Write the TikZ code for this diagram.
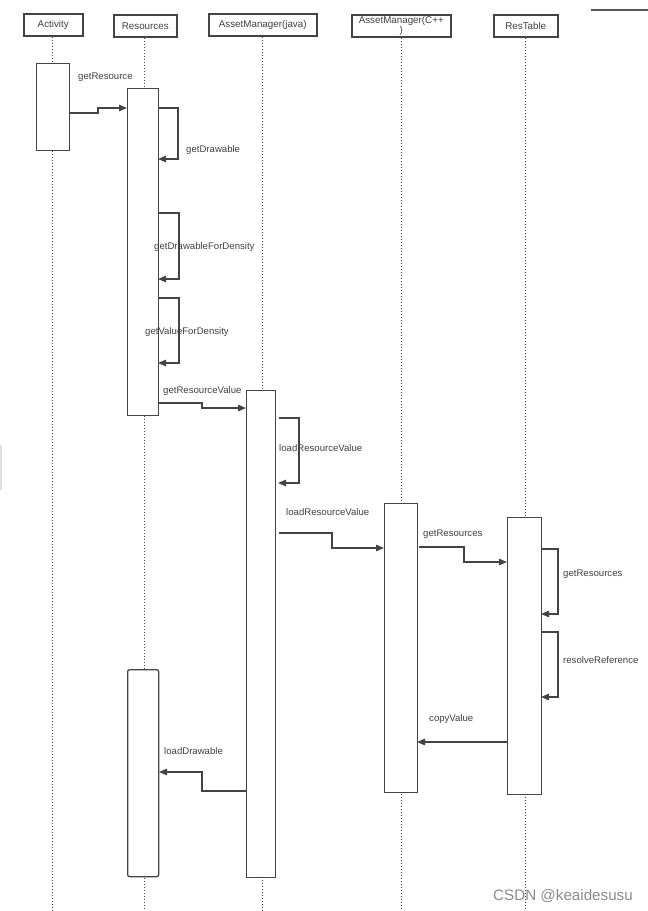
\documentclass[tikz,border=0pt]{standalone}
\usepackage{fontspec}
\setmainfont{Liberation Sans}
\usetikzlibrary{arrows.meta}
\definecolor{ln}{HTML}{444444}
\definecolor{tx}{HTML}{404040}
\tikzset{
  hdr/.style={draw=ln, line width=1.5pt, fill=white, inner sep=0pt, font=\fontsize{9.8}{8.5}\selectfont, text=tx, anchor=north west},
  actbox/.style={draw=ln, line width=1.3pt, fill=white, inner sep=0pt, anchor=north west},
  life/.style={draw=ln, line width=1pt, dotted},
  msg/.style={draw=ln, line width=1.3pt, -{Triangle[length=8pt,width=6.5pt]}},
  lbl/.style={font=\fontsize{9.6}{10}\selectfont, text=tx, anchor=west, inner sep=0pt},
}
\begin{document}
\begin{tikzpicture}[x=1pt,y=-1pt]
\useasboundingbox[fill=white] (0,0) rectangle (648,911);
% faint artefacts
\draw[black!12, line width=1.2pt] (1,445) -- (1,490);
\draw[ln!90, line width=2pt] (591,10) -- (648,10);
% headers
\node[hdr, minimum width=59pt, minimum height=22pt] (hAct) at (23,13) {Activity};
\node[hdr, minimum width=63pt, minimum height=22pt] (hRes) at (113,14) {Resources};
\node[hdr, minimum width=108pt, minimum height=22pt] (hAMJ) at (208,13) {AssetManager(java)};
\node[hdr, minimum width=99pt, minimum height=22pt, align=center] (hAMC) at (351,14) {AssetManager(C++\\)};
\node[hdr, minimum width=64pt, minimum height=22pt] (hRT) at (493,14) {ResTable};
% lifelines
\coordinate (eAct) at (52,911);
\coordinate (eRes) at (144,911);
\coordinate (eAMJ) at (262,911);
\coordinate (eAMC) at (401,911);
\coordinate (eRT) at (525,911);
\draw[life] (hAct.south -| eAct) -- (eAct);
\draw[life] (hRes.south -| eRes) -- (eRes);
\draw[life] (hAMJ.south -| eAMJ) -- (eAMJ);
\draw[life] (hAMC.south -| eAMC) -- (eAMC);
\draw[life] (hRT.south -| eRT) -- (eRT);
% activations
\node[actbox, minimum width=33pt, minimum height=87pt] (aAct) at (36,63) {};
\node[actbox, minimum width=31pt, minimum height=327pt] (aRes1) at (127,88) {};
\node[actbox, minimum width=29pt, minimum height=487pt] (aAMJ) at (246,390) {};
\node[actbox, minimum width=33pt, minimum height=289pt] (aAMC) at (384,503) {};
\node[actbox, minimum width=34pt, minimum height=277pt] (aRT) at (507,517) {};
\node[actbox, rounded corners=2pt, minimum width=31pt, minimum height=207pt] (aRes2) at (127,669) {};
% messages
\coordinate (m1a) at (69,113); \coordinate (m1b) at (127,108);
\draw[msg] (m1a) -- (98,113) -- (98,108) -- (m1b);
\node[lbl] (l1) at (78,77) {getResource};

\coordinate (m2a) at (158,108); \coordinate (m2b) at (158,159);
\draw[msg] (m2a) -- (178,108) -- (178,159) -- (m2b);
\node[lbl] (l2) at (186,150) {getDrawable};

\coordinate (m3a) at (158,213); \coordinate (m3b) at (158,279);
\draw[msg] (m3a) -- (179,213) -- (179,279) -- (m3b);
\node[lbl] (l3) at (154,247) {getDrawableForDensity};

\coordinate (m4a) at (158,298); \coordinate (m4b) at (158,363);
\draw[msg] (m4a) -- (179,298) -- (179,363) -- (m4b);
\node[lbl] (l4) at (145,332) {getValueForDensity};

\coordinate (m5a) at (158,403); \coordinate (m5b) at (246,408);
\draw[msg] (m5a) -- (202,403) -- (202,408) -- (m5b);
\node[lbl] (l5) at (163,391) {getResourceValue};

\coordinate (m6a) at (279,418); \coordinate (m6b) at (278,483);
\draw[msg] (m6a) -- (299,418) -- (299,483) -- (m6b);
\node[lbl] (l6) at (279,448) {loadResourceValue};

\coordinate (m7a) at (279,533); \coordinate (m7b) at (384,548);
\draw[msg] (m7a) -- (332,533) -- (332,548) -- (m7b);
\node[lbl] (l7) at (286,512) {loadResourceValue};

\coordinate (m8a) at (419,547); \coordinate (m8b) at (507,562);
\draw[msg] (m8a) -- (464,547) -- (464,562) -- (m8b);
\node[lbl] (l8) at (423,534) {getResources};

\coordinate (m9a) at (541,549); \coordinate (m9b) at (541,614);
\draw[msg] (m9a) -- (558,549) -- (558,614) -- (m9b);
\node[lbl] (l9) at (563,574) {getResources};

\coordinate (m10a) at (541,632); \coordinate (m10b) at (541,697);
\draw[msg] (m10a) -- (558,632) -- (558,697) -- (m10b);
\node[lbl] (l10) at (563,660) {resolveReference};

\coordinate (m11a) at (507,742); \coordinate (m11b) at (417,742);
\draw[msg] (m11a) -- (m11b);
\node[lbl] (l11) at (429,719) {copyValue};

\coordinate (m12a) at (246,791); \coordinate (m12b) at (159,772);
\draw[msg] (m12a) -- (202,791) -- (202,772) -- (m12b);
\node[lbl] (l12) at (164,751) {loadDrawable};

% watermark
\node[anchor=west, inner sep=0pt, text=black!45, font=\fontsize{15.2}{17}\selectfont] (wm) at (493,896) {CSDN @keaidesusu};
\end{tikzpicture}
\end{document}
